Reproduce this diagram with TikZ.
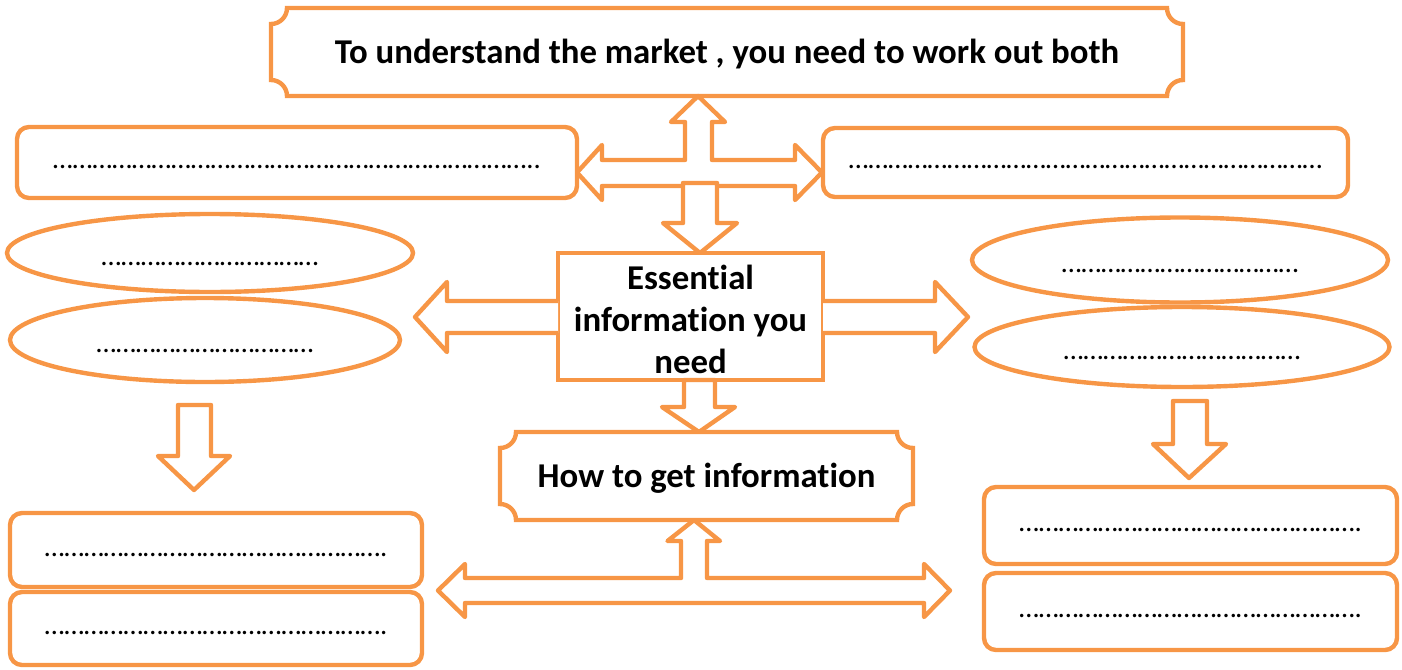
\documentclass[tikz,border=0pt]{standalone}
\usepackage{fontspec}
\setmainfont{Carlito}[Ligatures=NoCommon]
\usetikzlibrary{shapes.geometric,calc}
\definecolor{boxorange}{HTML}{F79646}
\tikzset{
  outline/.style={draw=boxorange, line width=2.2pt},
  blockarrow/.style={outline, fill=white, line join=round},
  heading/.style={font=\fontsize{17.4}{21}\bfseries\selectfont, inner sep=0pt, outer sep=0pt},
  plaquetext/.style={heading, text height=15pt, text depth=3.5pt},
  dotbox/.style={outline, rounded corners=6pt, inner sep=0pt, text height=6pt, text depth=0pt, font=\fontsize{14.3}{17}\selectfont},
  dotoval/.style={outline, ellipse, inner sep=0pt, text height=12pt, text depth=0pt, font=\fontsize{14.3}{17}\selectfont},
}
% a run of ellipsis characters
\newcommand{\dotrun}[1]{\foreach \k in {1,...,#1}{…}}
% frame with hollow corners round a node
\newcommand{\plaqueframe}[1]{%
  \draw[outline] ($(#1.north west)+(8pt,0)$) -- ($(#1.north east)+(-8pt,0)$)
    arc[start angle=180, end angle=270, radius=8pt] -- ($(#1.south east)+(0,8pt)$)
    arc[start angle=90, end angle=180, radius=8pt] -- ($(#1.south west)+(8pt,0)$)
    arc[start angle=0, end angle=90, radius=8pt] -- ($(#1.north west)+(0,-8pt)$)
    arc[start angle=270, end angle=360, radius=8pt] -- cycle;}
\begin{document}
\begin{tikzpicture}[x=0.5pt,y=0.5pt]
\useasboundingbox (0,0) rectangle (1402,-669);

\node[plaquetext, minimum width=456pt, minimum height=44pt] (market) at (727,-52) {To understand the market , you need to work out both};
\plaqueframe{market}

\node[dotbox, minimum width=280pt, minimum height=35.5pt] (needL) at (297,-162.5) {\dotrun{24}..};
\node[dotbox, minimum width=262.5pt, minimum height=34.5pt] (needR) at (1085.5,-162.5) {\dotrun{24}};

\draw[blockarrow] (698,-96) -- (725,-122) -- (712,-122) -- (712,-160) -- (795,-160) -- (795,-145) -- (822,-172.5) -- (795,-200) -- (795,-186) -- (602,-186) -- (602,-200) -- (577,-172.5) -- (602,-145) -- (602,-160) -- (685,-160) -- (685,-122) -- (671,-122) -- cycle;
\draw[blockarrow] (683,-183) -- (717,-183) -- (717,-223) -- (737,-223) -- (700,-253) -- (663,-223) -- (683,-223) -- cycle;

\node[heading, align=center, outline, minimum width=132.5pt, minimum height=63.5pt] (essential) at (690.5,-316.5) {\rule{0pt}{15pt}Essential\\information you\\need};

\draw[blockarrow] (essential.west |- 0,-301) -- (447,-301) -- (447,-282) -- (415,-317) -- (447,-352) -- (447,-333) -- (essential.west |- 0,-333);
\draw[blockarrow] (essential.east |- 0,-301) -- (935,-301) -- (935,-282) -- (968,-317) -- (935,-352) -- (935,-333) -- (essential.east |- 0,-333);
\draw[blockarrow] (684,-380) -- (715,-380) -- (715,-407) -- (735,-407) -- (699,-432) -- (662,-407) -- (684,-407) -- cycle;

\node[plaquetext, minimum width=206.5pt, minimum height=44pt] (howto) at (706.5,-476) {How to get information};
\plaqueframe{howto}

\draw[blockarrow] (694,-520) -- (720,-541) -- (707,-541) -- (707,-578) -- (924,-578) -- (924,-564) -- (950,-590.5) -- (924,-617) -- (924,-603) -- (465,-603) -- (465,-617) -- (438,-590.5) -- (465,-564) -- (465,-578) -- (681,-578) -- (681,-541) -- (667.5,-541) -- cycle;

\node[dotoval, minimum width=203pt, minimum height=39pt] (itemA) at (210,-253) {\dotrun{11}};
\node[dotoval, minimum width=195pt, minimum height=42pt] (itemB) at (205,-340) {\dotrun{11}};
\node[dotoval, minimum width=208pt, minimum height=42.5pt] (itemC) at (1180,-260) {\dotrun{12}};
\node[dotoval, minimum width=207.5pt, minimum height=40pt] (itemD) at (1182,-347) {\dotrun{12}};

\draw[blockarrow] (178,-405) -- (211,-405) -- (211,-456) -- (230,-456) -- (194,-490) -- (158,-456) -- (178,-456) -- cycle;
\draw[blockarrow] (1173,-401) -- (1207,-401) -- (1207,-444) -- (1226,-444) -- (1189,-478) -- (1153,-444) -- (1173,-444) -- cycle;

\node[dotbox, minimum width=206pt, minimum height=37pt] (methodA) at (216,-550) {\dotrun{17}.};
\node[dotbox, minimum width=206pt, minimum height=36.5pt] (methodB) at (216,-628.5) {\dotrun{17}.};
\node[dotbox, minimum width=206.5pt, minimum height=38.5pt] (methodC) at (1190.5,-525.5) {\dotrun{17}.};
\node[dotbox, minimum width=206.5pt, minimum height=38.5pt] (methodD) at (1190.5,-611.5) {\dotrun{17}.};
\end{tikzpicture}
\end{document}
